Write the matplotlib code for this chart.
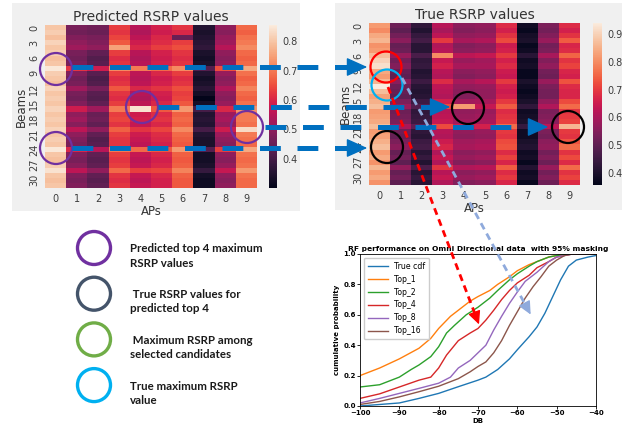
import numpy as np
import matplotlib
matplotlib.use('Agg')
import matplotlib.pyplot as plt
import seaborn as sns
from matplotlib.patches import Rectangle, Circle

# predicted RSRP per beam (rows) and AP (columns)
pred_rsrp = [
    [.80, .47, .46, .63, .55, .59, .62, .35, .50, .68],
    [.81, .46, .45, .62, .54, .58, .60, .34, .49, .67],
    [.79, .48, .47, .64, .56, .60, .45, .35, .51, .69],
    [.82, .50, .48, .66, .58, .61, .63, .36, .52, .70],
    [.80, .52, .50, .75, .60, .63, .65, .37, .55, .72],
    [.81, .47, .44, .63, .55, .59, .62, .34, .50, .68],
    [.79, .46, .42, .61, .54, .58, .61, .33, .49, .67],
    [.80, .47, .43, .62, .55, .59, .62, .34, .50, .68],
    [.85, .62, .58, .72, .70, .68, .72, .42, .65, .76],
    [.81, .48, .43, .63, .56, .60, .63, .35, .51, .69],
    [.80, .46, .41, .61, .55, .58, .61, .33, .49, .67],
    [.79, .47, .42, .62, .56, .59, .62, .34, .50, .68],
    [.82, .52, .47, .66, .60, .62, .65, .36, .54, .71],
    [.80, .47, .43, .62, .55, .59, .63, .33, .50, .68],
    [.81, .46, .42, .61, .54, .58, .64, .30, .49, .67],
    [.80, .48, .44, .63, .56, .60, .66, .33, .51, .69],
    [.82, .58, .52, .70, .84, .66, .74, .40, .60, .73],
    [.80, .50, .45, .63, .58, .61, .67, .35, .52, .70],
    [.81, .52, .46, .64, .59, .62, .68, .36, .53, .70],
    [.80, .49, .44, .62, .57, .60, .67, .35, .51, .69],
    [.82, .56, .50, .67, .62, .64, .72, .40, .58, .83],
    [.80, .50, .44, .63, .58, .61, .68, .35, .52, .70],
    [.81, .48, .42, .62, .57, .60, .67, .34, .50, .69],
    [.80, .47, .43, .62, .56, .59, .66, .34, .49, .68],
    [.85, .60, .55, .70, .68, .66, .74, .42, .63, .76],
    [.80, .48, .44, .63, .57, .60, .67, .33, .50, .69],
    [.79, .47, .43, .62, .56, .59, .66, .33, .49, .68],
    [.81, .49, .44, .63, .57, .60, .67, .34, .51, .69],
    [.84, .56, .50, .68, .63, .64, .71, .38, .57, .74],
    [.80, .48, .44, .62, .57, .60, .67, .33, .50, .69],
    [.79, .47, .43, .61, .56, .59, .66, .32, .49, .68],
    [.80, .48, .44, .62, .57, .59, .66, .32, .50, .68],
]

# measured RSRP, same layout
true_rsrp = [
    [.82, .52, .43, .62, .56, .57, .68, .38, .54, .68],
    [.80, .50, .41, .60, .55, .56, .66, .37, .53, .66],
    [.84, .53, .44, .63, .57, .58, .69, .39, .55, .69],
    [.86, .56, .46, .70, .60, .61, .72, .40, .58, .74],
    [.81, .51, .42, .61, .55, .56, .65, .37, .53, .67],
    [.82, .52, .42, .62, .56, .57, .66, .38, .54, .68],
    [.87, .58, .47, .80, .63, .64, .70, .42, .60, .75],
    [.90, .53, .43, .64, .58, .59, .66, .38, .55, .69],
    [.92, .55, .44, .66, .60, .60, .68, .39, .57, .71],
    [.84, .51, .41, .62, .56, .57, .65, .37, .53, .67],
    [.82, .50, .42, .61, .55, .56, .64, .37, .52, .66],
    [.86, .56, .45, .68, .60, .62, .70, .40, .58, .73],
    [.94, .52, .42, .63, .57, .58, .66, .38, .54, .68],
    [.87, .51, .41, .62, .56, .57, .65, .37, .53, .67],
    [.83, .50, .42, .61, .55, .57, .66, .38, .53, .67],
    [.85, .54, .45, .66, .59, .60, .70, .40, .57, .72],
    [.87, .58, .48, .72, .82, .64, .74, .43, .61, .76],
    [.82, .52, .43, .62, .57, .58, .68, .38, .54, .69],
    [.83, .53, .44, .63, .58, .59, .69, .39, .55, .70],
    [.84, .54, .45, .64, .59, .60, .70, .40, .56, .71],
    [.87, .60, .50, .72, .65, .66, .76, .44, .63, .86],
    [.82, .52, .43, .62, .57, .58, .70, .38, .54, .70],
    [.83, .51, .42, .61, .56, .57, .69, .38, .53, .69],
    [.85, .54, .45, .65, .59, .60, .72, .40, .56, .73],
    [.87, .56, .46, .67, .60, .61, .73, .41, .57, .76],
    [.82, .51, .42, .61, .56, .57, .68, .38, .53, .69],
    [.84, .53, .44, .64, .58, .59, .71, .39, .55, .72],
    [.81, .50, .41, .61, .55, .56, .67, .37, .52, .68],
    [.86, .57, .47, .69, .61, .62, .74, .41, .58, .76],
    [.82, .51, .42, .62, .56, .57, .68, .38, .53, .69],
    [.84, .53, .44, .64, .58, .59, .70, .39, .55, .71],
    [.81, .50, .42, .61, .55, .56, .67, .37, .52, .68],
]

# CDF curves (dB, cumulative probability)
cdf_names = ['True cdf', 'Top_1', 'Top_2', 'Top_4', 'Top_8', 'Top_16']
cdf_x = [
    [-100, -90, -85, -80, -75, -70, -68, -65, -62, -60, -57, -55, -53, -51, -49, -47, -45, -42, -40],
    [-100, -95, -90, -85, -82, -80, -77, -75, -72, -70, -67, -65, -62, -60, -57, -55, -52, -50, -48, -40],
    [-100, -95, -93, -90, -87, -85, -82, -80, -78, -76, -73, -70, -67, -65, -62, -60, -57, -55, -52, -50, -47, -40],
    [-100, -95, -90, -85, -82, -80, -78, -75, -72, -70, -68, -66, -64, -62, -60, -57, -55, -52, -50, -48, -46, -40],
    [-100, -95, -90, -85, -80, -77, -75, -72, -70, -68, -66, -64, -62, -60, -58, -55, -52, -50, -48, -46, -40],
    [-100, -95, -90, -85, -80, -75, -72, -70, -68, -66, -64, -62, -60, -58, -56, -54, -52, -50, -48, -46, -40],
]
cdf_y = [
    [0.0, 0.02, 0.05, 0.083, 0.127, 0.17, 0.19, 0.24, 0.31, 0.37, 0.456, 0.52, 0.61, 0.72, 0.83, 0.92, 0.96, 0.98, 0.99],
    [0.20, 0.25, 0.31, 0.38, 0.445, 0.51, 0.59, 0.63, 0.69, 0.72, 0.76, 0.80, 0.85, 0.89, 0.93, 0.95, 0.98, 0.99, 1.0, 1.0],
    [0.125, 0.14, 0.16, 0.19, 0.24, 0.27, 0.325, 0.39, 0.48, 0.53, 0.60, 0.65, 0.71, 0.76, 0.83, 0.87, 0.92, 0.95, 0.98, 0.99, 1.0, 1.0],
    [0.05, 0.08, 0.125, 0.17, 0.19, 0.25, 0.335, 0.43, 0.48, 0.51, 0.565, 0.63, 0.70, 0.76, 0.81, 0.86, 0.91, 0.95, 0.98, 0.99, 1.0, 1.0],
    [0.02, 0.05, 0.083, 0.116, 0.15, 0.19, 0.25, 0.30, 0.35, 0.40, 0.50, 0.59, 0.675, 0.75, 0.82, 0.88, 0.95, 0.98, 0.99, 1.0, 1.0],
    [0.01, 0.03, 0.06, 0.094, 0.13, 0.18, 0.225, 0.26, 0.29, 0.35, 0.43, 0.53, 0.62, 0.71, 0.785, 0.85, 0.92, 0.96, 0.99, 1.0, 1.0],
]

legend_labels = ['Predicted top 4 maximum\nRSRP values',
                 ' True RSRP values for\npredicted top 4',
                 ' Maximum RSRP among\nselected candidates',
                 'True maximum RSRP\nvalue']
legend_colors = ['#7030a0', '#44546a', '#70ad47', '#00b0f0']

W, H = 631, 428
fig = plt.figure(figsize=(W / 100, H / 100), dpi=100)
fig.patch.set_facecolor('white')
plt.rcParams['lines.scale_dashes'] = False


def px(x0, y0, x1, y1):
    # pixel box (top-left origin) -> figure fraction rect
    return [x0 / W, 1 - y1 / H, (x1 - x0) / W, (y1 - y0) / H]


def heat_panel(bg, hm, cb, data, title, vmin, vmax, cticks):
    fig.patches.append(Rectangle((bg[0], bg[1]), bg[2], bg[3], transform=fig.transFigure,
                                 facecolor='#f0f0f0', edgecolor='none', zorder=-5))
    ax = fig.add_axes(hm)
    cax = fig.add_axes(cb)
    sns.heatmap(np.array(data), ax=ax, cbar_ax=cax, cmap='rocket', vmin=vmin, vmax=vmax)
    ax.set_xticks(np.arange(10) + 0.5)
    ax.set_xticklabels([str(i) for i in range(10)], rotation=0)
    ax.set_yticks(np.arange(0, 32, 3) + 0.5)
    ax.set_yticklabels([str(i) for i in range(0, 32, 3)], rotation=90, va='center')
    ax.tick_params(length=0, labelsize=7, colors='#3c3c3c', pad=4)
    ax.set_xlabel('APs', fontsize=8.5, color='#333333', labelpad=1)
    ax.set_ylabel('Beams', fontsize=8.5, color='#333333', labelpad=1)
    ax.set_title(title, fontsize=10, color='#333333', pad=3)
    cax.set_yticks(cticks)
    cax.set_yticklabels(['%.1f' % t for t in cticks])
    cax.tick_params(length=0, labelsize=7, colors='#3c3c3c', pad=4)
    return ax


heat_panel(px(12, 3, 300, 211), px(45, 25, 257, 188), px(269, 25, 277, 188),
           pred_rsrp, 'Predicted RSRP values', 0.30, 0.855, [0.4, 0.5, 0.6, 0.7, 0.8])
heat_panel(px(335, 3, 622, 210), px(369, 23, 580, 185), px(593, 23, 602, 185),
           true_rsrp, 'True RSRP values', 0.357, 0.94, [0.4, 0.5, 0.6, 0.7, 0.8, 0.9])

# CDF plot
ax3 = fig.add_axes(px(360, 254, 596, 406))
cdf_colors = ['tab:blue', 'tab:orange', 'tab:green', 'tab:red', 'tab:purple', 'tab:brown']
for name, xs, ys, c in zip(cdf_names, cdf_x, cdf_y, cdf_colors):
    ax3.plot(xs, ys, color=c, lw=1.0, label=name)
ax3.set_xlim(-100, -40)
ax3.set_ylim(0, 1.0)
ax3.set_xticks([-100, -90, -80, -70, -60, -50, -40])
ax3.set_yticks([0.0, 0.2, 0.4, 0.6, 0.8, 1.0])
ax3.tick_params(labelsize=5, length=2, width=0.6, pad=1)
for lab in ax3.get_xticklabels() + ax3.get_yticklabels():
    lab.set_fontweight('bold')
for s in ax3.spines.values():
    s.set_linewidth(0.6)
ax3.set_xlabel('DB', fontsize=5, fontweight='bold', labelpad=1)
ax3.set_ylabel('cumulative probability', fontsize=5, fontweight='bold', labelpad=2)
ax3.set_title('RF performance on Omni Directional data  with 95% masking',
              fontsize=5.4, fontweight='bold', pad=2)
ax3.legend(loc='upper left', fontsize=5.6, handlelength=2.6, labelspacing=0.5,
           borderpad=0.5, framealpha=1, edgecolor='#cccccc')

# annotation overlay in pixel coordinates
ov = fig.add_axes([0, 0, 1, 1], zorder=10)
ov.set_xlim(0, W)
ov.set_ylim(H, 0)
ov.axis('off')
ov.patch.set_alpha(0)

blue = '#0070c0'
dash = (0, (15, 12))
# dashed connectors from predicted top 4 to the true map
for x0, x1, y in [(72, 353, 67), (72, 353, 148), (158, 436, 107), (265, 534, 127)]:
    ov.plot([x0, x1], [y, y], color=blue, lw=3.6, linestyle=dash, solid_capstyle='butt')
    ov.annotate('', xy=(x1 + 17, y), xytext=(x1 - 4, y),
                arrowprops=dict(arrowstyle='-|>,head_length=1.0,head_width=0.45',
                                color=blue, lw=1.0, mutation_scale=13))

# markers on the heatmaps
for cx, cy in [(56, 69), (142, 107), (247, 127), (56, 148)]:
    ov.add_patch(Circle((cx, cy), 16, fill=False, ec='#7030a0', lw=1.6))
for cx, cy in [(468, 108), (568, 127), (387, 147)]:
    ov.add_patch(Circle((cx, cy), 16, fill=False, ec='black', lw=1.6))
ov.add_patch(Circle((386, 67), 15.5, fill=False, ec='red', lw=1.6))
ov.add_patch(Circle((387, 85), 15.5, fill=False, ec='#00b0f0', lw=1.6))

# dashed pointers to the CDF curves
for (x0, y0), (x1, y1), c in [((388, 87), (480, 327), 'red'),
                              ((402, 78), (532, 317), '#8faadc')]:
    ov.plot([x0, x1 - (x1 - x0) * 0.04], [y0, y1 - (y1 - y0) * 0.04],
            color=c, lw=2.0, linestyle=(0, (5, 3.5)))
    ov.annotate('', xy=(x1, y1), xytext=(x1 - (x1 - x0) * 0.06, y1 - (y1 - y0) * 0.06),
                arrowprops=dict(arrowstyle='-|>,head_length=0.8,head_width=0.38',
                                color=c, lw=1.0, mutation_scale=10))

# key for the circle colours
for i, (txt, c) in enumerate(zip(legend_labels, legend_colors)):
    cy = 248 + i * 45.7
    ov.add_patch(Circle((94, cy), 16.5, fill=False, ec=c, lw=2.4))
    ov.text(130, cy + 8, txt, fontsize=8.3, family='Lato', fontweight='bold',
            color='#1a1a1a', va='center', linespacing=1.35)

fig.savefig('out.png', dpi=100)
